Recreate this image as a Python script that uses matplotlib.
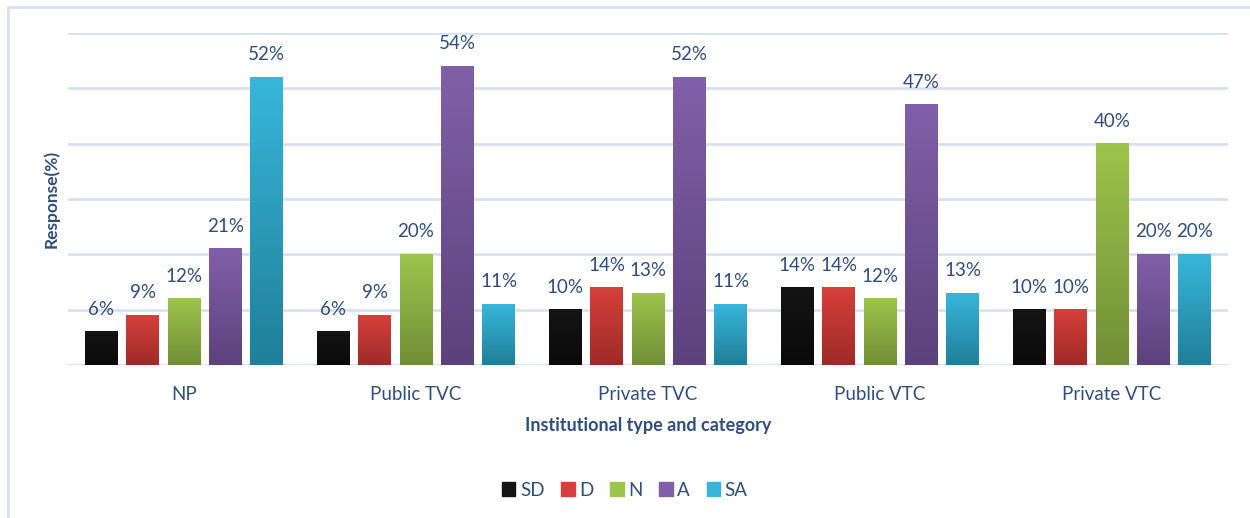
import numpy as np
import matplotlib.pyplot as plt
from matplotlib.colors import LinearSegmentedColormap
from matplotlib.patches import Rectangle

plt.rcParams['font.family'] = ['Lato', 'DejaVu Sans']

# data
categories = ['NP', 'Public TVC', 'Private TVC', 'Public VTC', 'Private VTC']
levels = ['SD', 'D', 'N', 'A', 'SA']
sd = [6, 6, 10, 14, 10]
d = [9, 9, 14, 14, 10]
n = [12, 20, 13, 12, 40]
a = [21, 54, 52, 47, 20]
sa = [52, 11, 11, 13, 20]
series = [sd, d, n, a, sa]

# top / bottom gradient colours per level
top_cols = ['#141414', '#d6403c', '#9dc44b', '#8060a8', '#38b6da']
bot_cols = ['#0a0a0a', '#9e2a27', '#728e37', '#5c427c', '#207f99']
text_col = '#2f4d7e'
grid_col = '#d6e2f3'

fig = plt.figure(figsize=(12.5, 5.18), dpi=100)
ax = fig.add_axes([68 / 1250, 1 - 365 / 518, 1160 / 1250, 332 / 518])

x = np.arange(len(categories))
step = 0.178
width = 0.142
for i, vals in enumerate(series):
    pos = x + (i - 2) * step
    bars = ax.bar(pos, vals, width, color=bot_cols[i], label=levels[i], zorder=3)
    cmap = LinearSegmentedColormap.from_list('g%d' % i, [bot_cols[i], top_cols[i]])
    for b, v in zip(bars, vals):
        x0 = b.get_x()
        ax.imshow(np.linspace(0, 1, 100).reshape(-1, 1), cmap=cmap, aspect='auto',
                  origin='lower', extent=(x0, x0 + b.get_width(), 0, b.get_height()),
                  zorder=3.5)
        ax.annotate('%d%%' % v, (b.get_x() + b.get_width() / 2, v),
                    xytext=(0, 10), textcoords='offset points', ha='center',
                    va='bottom', fontsize=13.5, color=text_col)

ax.set_xlim(-0.5, 4.5)
ax.set_ylim(0, 60)
ax.set_yticks(range(0, 61, 10))
ax.set_yticklabels([])
ax.tick_params(axis='y', length=0, pad=0)
ax.tick_params(axis='x', length=0, pad=15, labelsize=13.5, labelcolor=text_col)
ax.set_xticks(x)
ax.set_xticklabels(categories)
ax.grid(axis='y', color=grid_col, linewidth=2, zorder=0)
for s in ax.spines.values():
    s.set_visible(False)

ax.set_xlabel('Institutional type and category', fontsize=13, fontweight='bold',
              color=text_col, labelpad=10)
ax.set_ylabel('Response(%)', fontsize=12.5, fontweight='bold', color=text_col,
              labelpad=6)

handles = [Rectangle((0, 0), 1, 1, color=top_cols[i]) for i in range(5)]
fig.legend(handles, levels, loc='center', bbox_to_anchor=(0.5, 1 - 490 / 518),
           ncol=5, frameon=False, fontsize=13.5, labelcolor=text_col,
           handlelength=0.7, handleheight=0.7, handletextpad=0.25, columnspacing=0.9)

# light outer border (top and left visible)
fig.patches.append(Rectangle((8 / 1250, -0.1), 1.2, 1 - 7 / 518 + 0.1,
                             transform=fig.transFigure, fill=False,
                             edgecolor=grid_col, linewidth=2))

fig.savefig('out.png', dpi=100)
